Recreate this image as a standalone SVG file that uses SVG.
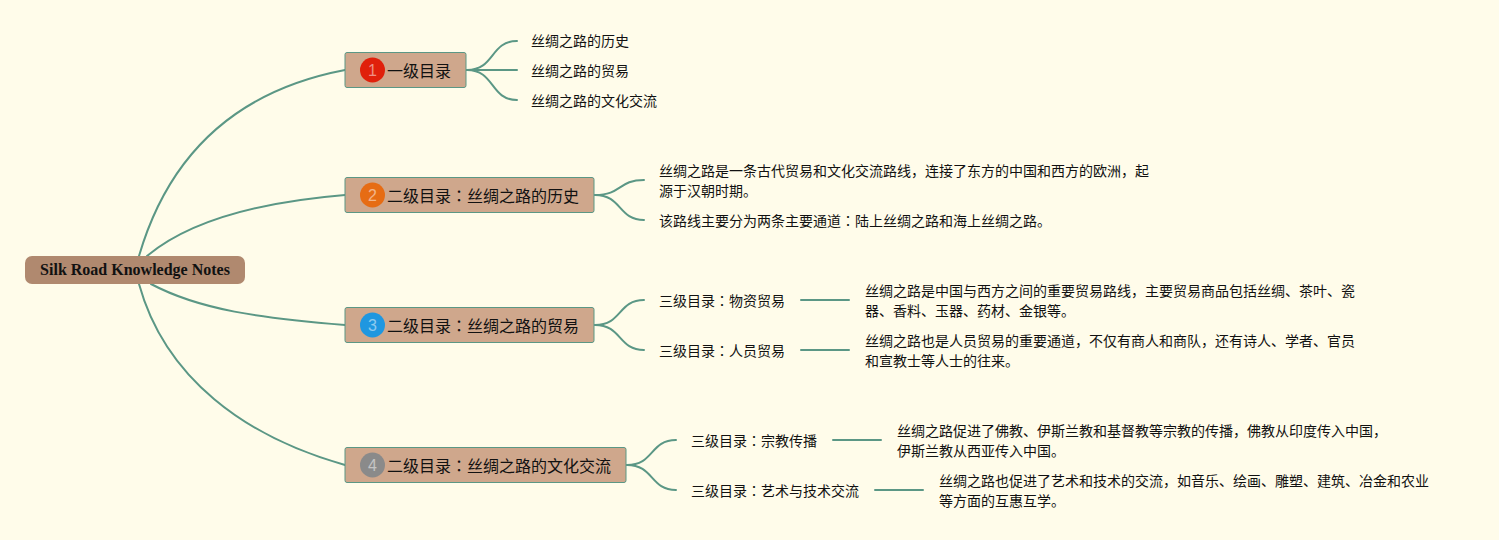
<svg xmlns="http://www.w3.org/2000/svg" width="1499" height="540" viewBox="0 0 1499 540">
<style>
.c{fill:none;stroke:#5b9785;stroke-width:2;stroke-linecap:round}
.n{fill:#cfa78c;stroke:#5b9785;stroke-width:1}
.t{font-family:"Noto Sans CJK SC","Liberation Sans",sans-serif;fill:#111}
.j{font-family:"Noto Sans CJK JP",sans-serif}
.l2{font-size:16px}
.l3{font-size:14px}
.r{font-family:"Liberation Serif",serif;font-size:16px;font-weight:bold;fill:#111}
.d{font-family:"Liberation Sans",sans-serif;font-size:16px;fill:#fff;fill-opacity:.5;text-anchor:middle}
</style>
<rect width="1499" height="540" fill="#fffcea"/>
<g id="connectors">
<path class="c" d="M139 256C170 150 240 90 345 70"/>
<path class="c" d="M147 256C190 220 260 202 345 195"/>
<path class="c" d="M151 284C200 310 260 318 345 325"/>
<path class="c" d="M139 284C165 378 245 437 345 465"/>
<path class="c" d="M467 70C495 70 490 41 517 41"/>
<path class="c" d="M467 70H517"/>
<path class="c" d="M467 70C495 70 490 100 517 100"/>
<path class="c" d="M595 195C622 195 618 180 644 180"/>
<path class="c" d="M595 195C622 195 618 220 644 220"/>
<path class="c" d="M595 325C622 325 618 300 644 300"/>
<path class="c" d="M595 325C622 325 618 350 644 350"/>
<path class="c" d="M801 300H849"/>
<path class="c" d="M801 350H849"/>
<path class="c" d="M627 465C654 465 650 440 676 440"/>
<path class="c" d="M627 465C654 465 650 490 676 490"/>
<path class="c" d="M833 440H881"/>
<path class="c" d="M875 490H923"/>
</g>
<g id="root"><rect x="25" y="256" width="220" height="28" rx="7" fill="#b0896f"/><text class="r" x="135" y="275" text-anchor="middle">Silk Road Knowledge Notes</text></g>
<g id="n1"><rect class="n" x="345" y="52.500" width="121" height="35" rx="2"/><circle cx="372.500" cy="70" r="12.500" fill="#e0200b"/><text class="d" x="372.500" y="75.500">1</text><text class="t l2" x="387" y="77">一级目录</text></g>
<g id="n2"><rect class="n" x="345" y="177.500" width="249" height="35" rx="2"/><circle cx="372.500" cy="195" r="12.500" fill="#e66c14"/><text class="d" x="372.500" y="200.500">2</text><text class="t l2" x="387" y="202">二级目录<tspan class="j">：</tspan>丝绸之路的历史</text></g>
<g id="n3"><rect class="n" x="345" y="307.500" width="249" height="35" rx="2"/><circle cx="372.500" cy="325" r="12.500" fill="#1f97e0"/><text class="d" x="372.500" y="330.500">3</text><text class="t l2" x="387" y="332">二级目录<tspan class="j">：</tspan>丝绸之路的贸易</text></g>
<g id="n4"><rect class="n" x="345" y="447.500" width="281" height="35" rx="2"/><circle cx="372.500" cy="465" r="12.500" fill="#8a8a8a"/><text class="d" x="372.500" y="470.500">4</text><text class="t l2" x="387" y="472">二级目录<tspan class="j">：</tspan>丝绸之路的文化交流</text></g>
<g id="a1"><text class="t l3" x="531" y="46">丝绸之路的历史</text></g>
<g id="a2"><text class="t l3" x="531" y="76">丝绸之路的贸易</text></g>
<g id="a3"><text class="t l3" x="531" y="106">丝绸之路的文化交流</text></g>
<g id="b1"><text class="t l3" x="659" y="176">丝绸之路是一条古代贸易和文化交流路线，连接了东方的中国和西方的欧洲，起</text><text class="t l3" x="659" y="196">源于汉朝时期。</text></g>
<g id="b2"><text class="t l3" x="659" y="226">该路线主要分为两条主要通道<tspan class="j">：</tspan>陆上丝绸之路和海上丝绸之路。</text></g>
<g id="c1"><text class="t l3" x="659" y="306">三级目录<tspan class="j">：</tspan>物资贸易</text></g>
<g id="c1d"><text class="t l3" x="865" y="296">丝绸之路是中国与西方之间的重要贸易路线，主要贸易商品包括丝绸、茶叶、瓷</text><text class="t l3" x="865" y="316">器、香料、玉器、药材、金银等。</text></g>
<g id="c2"><text class="t l3" x="659" y="356">三级目录<tspan class="j">：</tspan>人员贸易</text></g>
<g id="c2d"><text class="t l3" x="865" y="346">丝绸之路也是人员贸易的重要通道，不仅有商人和商队，还有诗人、学者、官员</text><text class="t l3" x="865" y="366">和宣教士等人士的往来。</text></g>
<g id="d1"><text class="t l3" x="691" y="446">三级目录<tspan class="j">：</tspan>宗教传播</text></g>
<g id="d1d"><text class="t l3" x="897" y="436">丝绸之路促进了佛教、伊斯兰教和基督教等宗教的传播，佛教从印度传入中国，</text><text class="t l3" x="897" y="456">伊斯兰教从西亚传入中国。</text></g>
<g id="d2"><text class="t l3" x="691" y="496">三级目录<tspan class="j">：</tspan>艺术与技术交流</text></g>
<g id="d2d"><text class="t l3" x="939" y="486">丝绸之路也促进了艺术和技术的交流，如音乐、绘画、雕塑、建筑、冶金和农业</text><text class="t l3" x="939" y="506">等方面的互惠互学。</text></g>
</svg>
